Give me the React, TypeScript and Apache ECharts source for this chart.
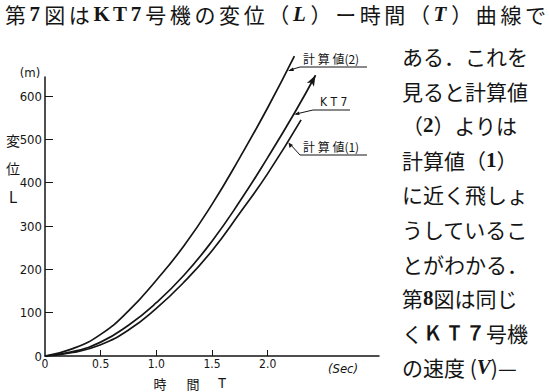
import React, { useEffect, useRef } from "react";
import * as echarts from "echarts";

// ---- data ----
const calc2Time = [0, 0.25, 0.5, 0.75, 1.0, 1.25, 1.5, 1.75, 2.0, 2.24];
const calc2Disp = [0, 17, 50, 104, 175, 255, 350, 458, 573, 692];

const kt7Time = [0, 0.25, 0.5, 0.75, 1.0, 1.25, 1.5, 1.75, 2.0, 2.25, 2.43];
const kt7Disp = [0, 10, 32, 71, 123, 187, 265, 357, 458, 565, 648];

const calc1Time = [0, 0.25, 0.5, 0.75, 1.0, 1.25, 1.5, 1.75, 2.0, 2.3];
const calc1Disp = [0, 8, 26, 60, 110, 171, 243, 330, 421, 545];

const xTickLabels = [0, 0.5, 1.0, 1.5, 2.0];
const yTickLabels = [0, 100, 200, 300, 400, 500, 600];

const seriesNames = ["計 算 値(2)", "K T 7", "計 算 値(1)"];

// title tokens: [text, style]
const titleTokens: [string, string][] = [
  ["第", "n"], ["7", "b"], ["図", "n"], ["は", "n"], ["K", "b"], ["T", "b"], ["7", "b"],
  ["号", "n"], ["機", "n"], ["の", "n"], ["変", "n"], ["位", "n"], ["（", "n"], ["L", "i"],
  ["）", "n"], ["ー", "n"], ["時", "n"], ["間", "n"], ["（", "n"], ["T", "i"], ["）", "n"],
  ["曲", "n"], ["線", "n"], ["で", "n"],
];

const bodyLines = [
  "ある．これを",
  "見ると計算値",
  "（{b|2}）よりは",
  "計算値（{b|1}）",
  "に近く飛しょ",
  "うしているこ",
  "とがわかる．",
  "第{b|8}図は同じ",
  "く{b|Ｋ}{b|Ｔ}{b|７}号機",
  "の速度 ({i|V})—",
];

const FONT_CJK = '"Noto Sans CJK JP", "Noto Sans", sans-serif';
const FONT_SERIF_B = '"Liberation Serif", "DejaVu Serif", serif';
const FONT_NUM = '"DejaVu Sans Condensed", "Liberation Sans Narrow", "Liberation Sans", sans-serif';
const INK = "#151515";

function zip(t: number[], v: number[]) {
  return t.map((x, i) => [x, v[i]]);
}

function tokenWidth(t: string, s: string) {
  if (s === "n") return 21;
  if (t === "K") return 16;
  if (t === "T") return 14;
  if (t === "L") return 14;
  return 11;
}

export default function App() {
  const ref = useRef<HTMLDivElement>(null);

  useEffect(() => {
    if (!ref.current) return;
    const chart = echarts.init(ref.current, undefined, { renderer: "svg" });

    const kt7Data: any[] = zip(kt7Time, kt7Disp);
    const last = kt7Data.length - 1;
    kt7Data[last] = {
      value: kt7Data[last],
      symbol: "arrow",
      symbolSize: [6, 11],
      symbolRotate: -28,
      itemStyle: { color: INK },
    };

    const richBody = {
      b: { fontFamily: FONT_SERIF_B, fontWeight: "bold", fontSize: 21, fill: INK },
      i: { fontFamily: FONT_SERIF_B, fontWeight: "bold", fontStyle: "italic", fontSize: 21, fill: INK },
    };

    // distribute title tokens across the full width
    const titleLeft = 5;
    const titleRight = 546;
    const natural = titleTokens.reduce((a, [t, s]) => a + tokenWidth(t, s), 0);
    const gap = (titleRight - titleLeft - natural) / (titleTokens.length - 1);
    let cx = titleLeft;
    const titleEls: any[] = titleTokens.map(([t, s]) => {
      const el = {
        type: "text",
        x: cx,
        y: 14,
        style: {
          text: t,
          font:
            s === "n"
              ? `21px ${FONT_CJK}`
              : s === "b"
              ? `bold 21px ${FONT_SERIF_B}`
              : `italic bold 21px ${FONT_SERIF_B}`,
          fill: INK,
          textVerticalAlign: "middle",
        },
      };
      cx += tokenWidth(t, s) + gap;
      return el;
    });

    const lineY0 = 56;
    const lineStep = 34.6;

    const graphics: any[] = [
      ...titleEls,
      ...bodyLines.map((t, i) => ({
        type: "text",
        x: 402,
        y: lineY0 + i * lineStep,
        style: {
          text: t,
          font: `21px ${FONT_CJK}`,
          fill: INK,
          textVerticalAlign: "middle",
          rich: richBody,
        },
      })),
      // axis titles
      { type: "text", x: 30, y: 72, style: { text: "(m)", font: `13px ${FONT_NUM}`, fill: INK, textAlign: "center", textVerticalAlign: "middle" } },
      { type: "text", x: 13, y: 140, style: { text: "変", font: `14px ${FONT_CJK}`, fill: INK, textAlign: "center", textVerticalAlign: "middle" } },
      { type: "text", x: 13, y: 168, style: { text: "位", font: `14px ${FONT_CJK}`, fill: INK, textAlign: "center", textVerticalAlign: "middle" } },
      { type: "text", x: 13, y: 197, style: { text: "L", font: `16px ${FONT_NUM}`, fill: INK, textAlign: "center", textVerticalAlign: "middle" } },
      { type: "text", x: 343, y: 368, style: { text: "(Sec)", font: `italic 13px ${FONT_NUM}`, fill: INK, textAlign: "center", textVerticalAlign: "middle" } },
      { type: "text", x: 160, y: 383, style: { text: "時", font: `13px ${FONT_CJK}`, fill: INK, textAlign: "center", textVerticalAlign: "middle" } },
      { type: "text", x: 193, y: 383, style: { text: "間", font: `13px ${FONT_CJK}`, fill: INK, textAlign: "center", textVerticalAlign: "middle" } },
      { type: "text", x: 222, y: 383, style: { text: "T", font: `14px ${FONT_NUM}`, fill: INK, textAlign: "center", textVerticalAlign: "middle" } },
      // curve labels with leaders
      { type: "text", x: 303, y: 58, style: { text: seriesNames[0], font: `12px ${FONT_CJK}`, fill: INK, textVerticalAlign: "middle" } },
      { type: "line", shape: { x1: 300, y1: 67, x2: 367, y2: 67 }, style: { stroke: INK, lineWidth: 1 } },
      { type: "line", shape: { x1: 300, y1: 67, x2: 290, y2: 70 }, style: { stroke: INK, lineWidth: 1 } },
      { type: "polygon", shape: { points: [[288, 71], [293, 67.5], [294, 71]] }, style: { fill: INK } },

      { type: "text", x: 320, y: 102, style: { text: seriesNames[1], font: `12px ${FONT_NUM}`, fill: INK, textVerticalAlign: "middle" } },
      { type: "line", shape: { x1: 313, y1: 110, x2: 350, y2: 110 }, style: { stroke: INK, lineWidth: 1 } },
      { type: "line", shape: { x1: 313, y1: 110, x2: 296, y2: 114 }, style: { stroke: INK, lineWidth: 1 } },
      { type: "polygon", shape: { points: [[294, 114.5], [299, 111.5], [299.5, 115]] }, style: { fill: INK } },

      { type: "text", x: 303, y: 146, style: { text: seriesNames[2], font: `12px ${FONT_CJK}`, fill: INK, textVerticalAlign: "middle" } },
      { type: "line", shape: { x1: 300, y1: 155, x2: 367, y2: 155 }, style: { stroke: INK, lineWidth: 1 } },
      { type: "line", shape: { x1: 300, y1: 155, x2: 290, y2: 144 }, style: { stroke: INK, lineWidth: 1 } },
      { type: "polygon", shape: { points: [[288.5, 142.5], [289.5, 148], [293, 145]] }, style: { fill: INK } },
    ];

    const lineSeries = (name: string, data: any[]) => ({
      name,
      type: "line",
      data,
      smooth: 0.5,
      symbol: "none",
      clip: false,
      lineStyle: { color: INK, width: 1.7 },
      itemStyle: { color: INK },
      z: 3,
    });

    chart.setOption({
      animation: false,
      backgroundColor: "#ffffff",
      grid: { left: 45, top: 77, width: 334, height: 279, containLabel: false },
      xAxis: {
        type: "value",
        min: 0,
        max: 3,
        interval: 0.5,
        axisLine: { show: true, onZero: false, lineStyle: { color: INK, width: 1.5 } },
        axisTick: { show: true, inside: true, length: 6, customValues: xTickLabels.slice(1), lineStyle: { color: INK, width: 1 } },
        axisLabel: {
          customValues: xTickLabels,
          formatter: (v: number) => (v === 0 ? "0" : v.toFixed(1)),
          margin: 2,
          color: INK,
          fontSize: 12,
          fontFamily: FONT_NUM,
        },
        splitLine: { show: false },
      },
      yAxis: {
        type: "value",
        min: 0,
        max: 644,
        interval: 100,
        axisLine: { show: true, onZero: false, lineStyle: { color: INK, width: 1.5 } },
        axisTick: { show: true, inside: true, length: 8, customValues: yTickLabels.slice(1), lineStyle: { color: INK, width: 1 } },
        axisLabel: {
          customValues: yTickLabels,
          margin: 3,
          color: INK,
          fontSize: 13,
          fontFamily: FONT_NUM,
        },
        splitLine: { show: false },
      },
      series: [
        lineSeries("計算値(2)", zip(calc2Time, calc2Disp)),
        lineSeries("KT7", kt7Data),
        lineSeries("計算値(1)", zip(calc1Time, calc1Disp)),
      ],
      graphic: graphics,
    });

    return () => chart.dispose();
  }, []);

  return (
    <div
      ref={ref}
      style={{ position: "fixed", left: 0, top: 0, width: 549, height: 392, background: "#fff" }}
    />
  );
}
